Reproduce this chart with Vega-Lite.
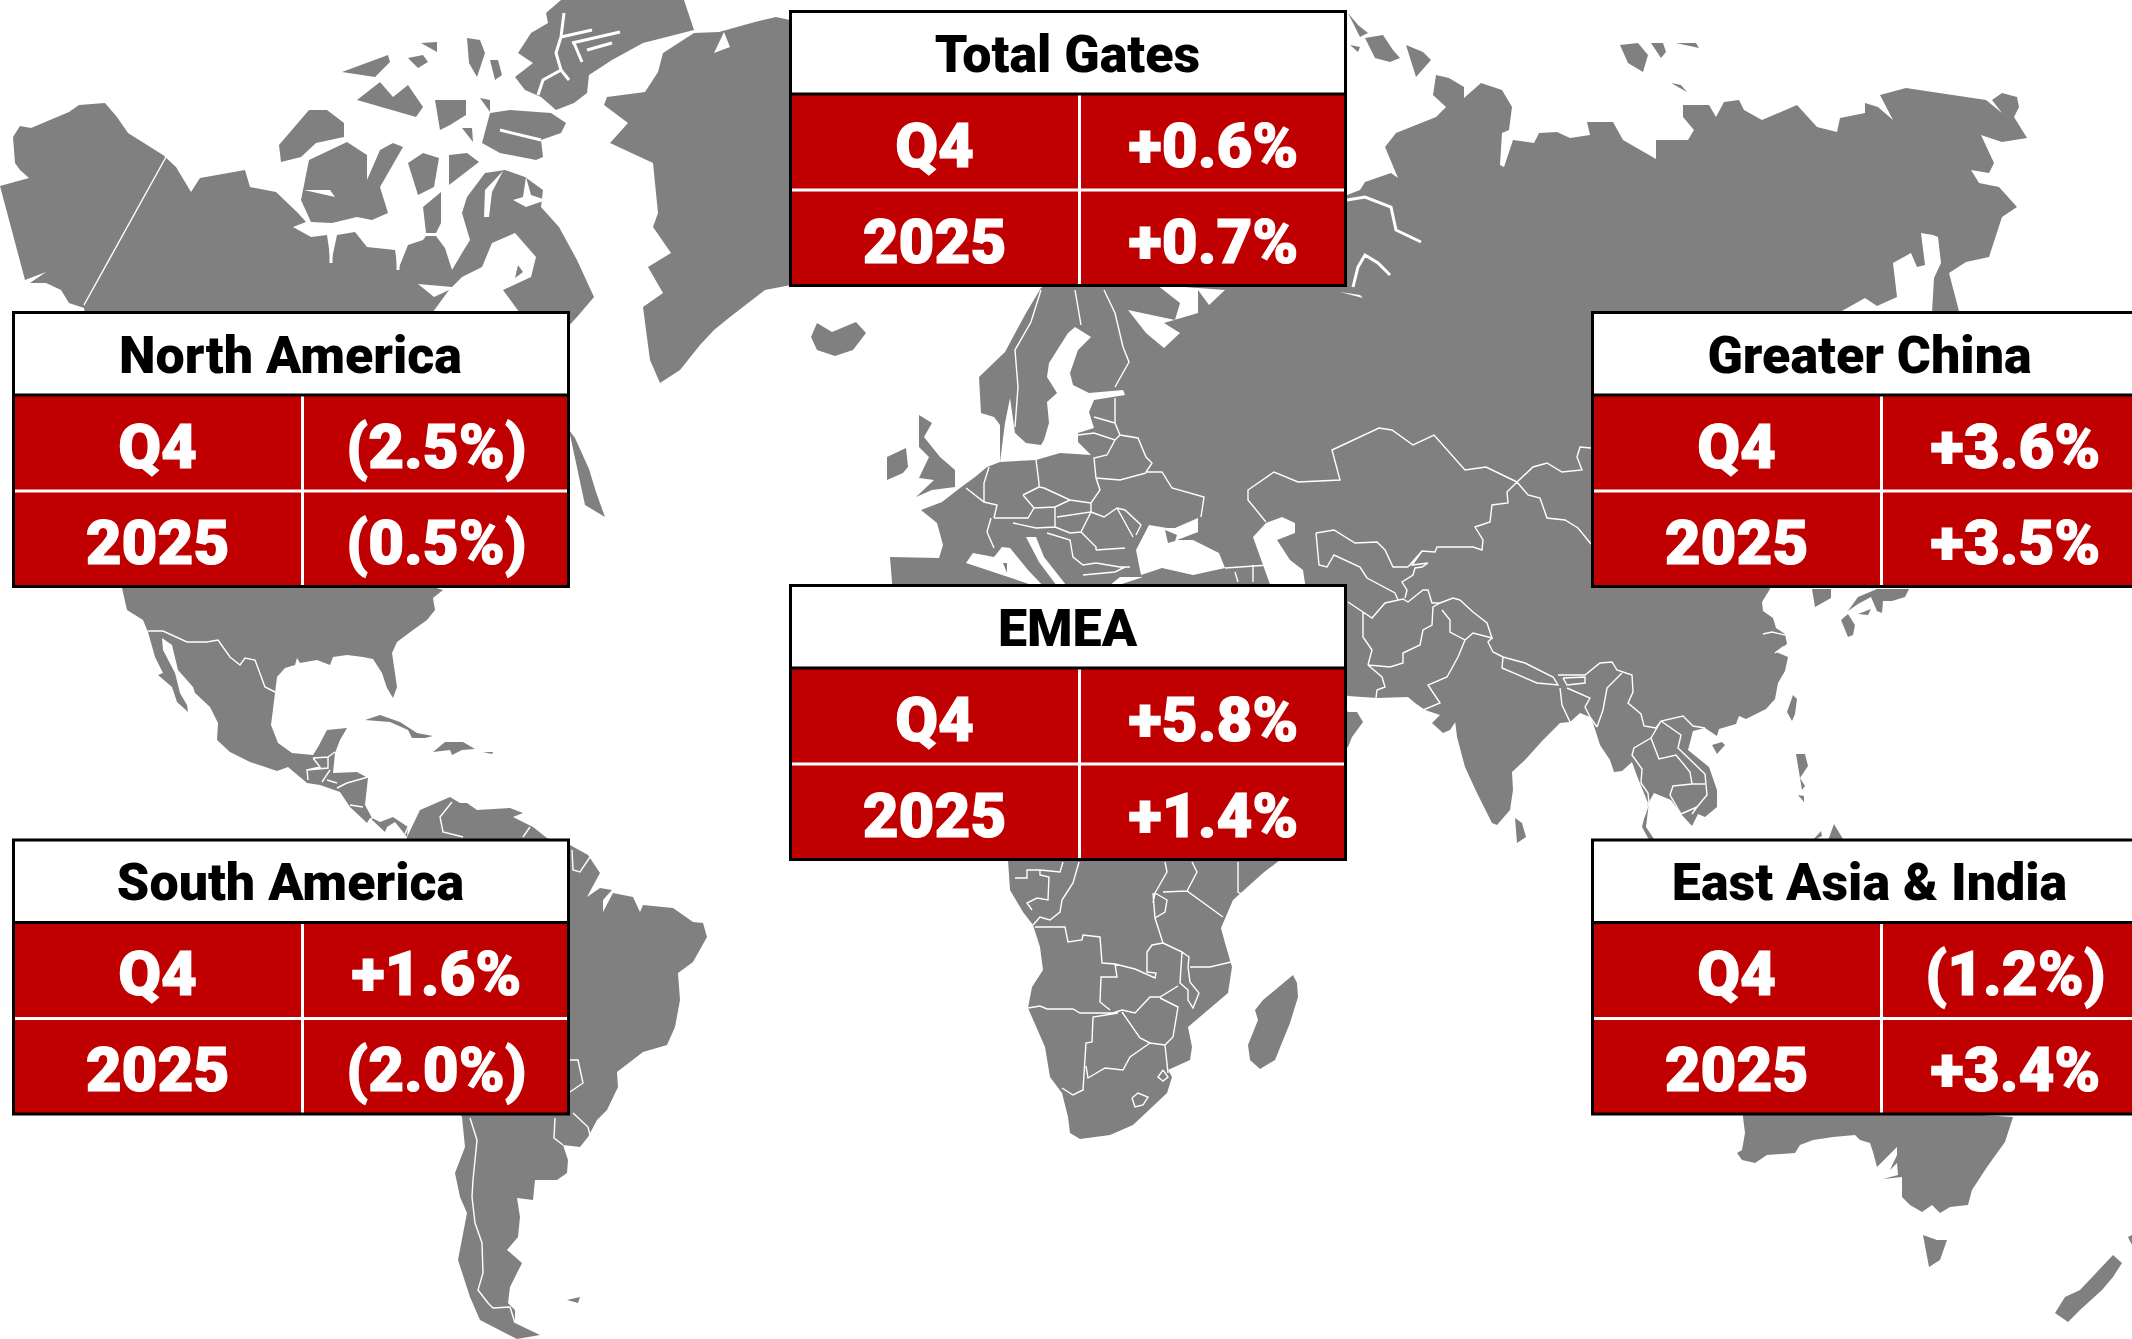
{
"$schema":"https://vega.github.io/schema/vega-lite/v6.json",
"width":2132,"height":1339,"padding":0,"autosize":"none","background":"#ffffff",
"config":{"view":{"stroke":null}},
"datasets":{
"cards":[
{"region":"Total Gates","period":"Q4","value":"+0.6%"},{"region":"Total Gates","period":"2025","value":"+0.7%"},
{"region":"North America","period":"Q4","value":"(2.5%)"},{"region":"North America","period":"2025","value":"(0.5%)"},
{"region":"Greater China","period":"Q4","value":"+3.6%"},{"region":"Greater China","period":"2025","value":"+3.5%"},
{"region":"EMEA","period":"Q4","value":"+5.8%"},{"region":"EMEA","period":"2025","value":"+1.4%"},
{"region":"South America","period":"Q4","value":"+1.6%"},{"region":"South America","period":"2025","value":"(2.0%)"},
{"region":"East Asia & India","period":"Q4","value":"(1.2%)"},{"region":"East Asia & India","period":"2025","value":"+3.4%"}
],
"areas":[
{"type":"Feature","properties":{"kind":"land","name":"North America"},"geometry":{"type":"Polygon","coordinates":[[[0,186],[29,178],[20,170],[15,163],[13,137],[20,126],[31,128],[69,112],[79,105],[105,103],[117,117],[128,133],[163,155],[176,167],[191,192],[200,178],[245,170],[250,187],[276,192],[298,213],[306,222],[293,227],[311,237],[327,235],[331,263],[337,235],[355,232],[367,247],[395,250],[398,270],[408,245],[423,240],[426,236],[436,236],[445,248],[452,270],[462,253],[470,240],[462,213],[467,197],[485,173],[505,170],[525,177],[543,190],[541,207],[559,227],[577,260],[594,297],[577,317],[565,330],[565,500],[500,540],[433,587],[443,590],[433,598],[435,610],[427,620],[413,630],[397,642],[392,653],[397,687],[393,698],[387,688],[382,673],[373,659],[363,657],[347,655],[333,657],[330,665],[317,660],[300,663],[297,658],[295,665],[285,668],[277,677],[275,693],[271,725],[278,743],[292,753],[313,755],[318,747],[327,730],[347,728],[340,740],[335,753],[333,773],[357,772],[368,778],[365,805],[372,818],[380,822],[393,817],[408,827],[407,837],[395,822],[387,827],[385,832],[370,818],[367,823],[350,807],[340,792],[320,785],[307,783],[288,767],[277,771],[250,762],[230,752],[217,740],[218,723],[210,707],[195,693],[193,687],[178,670],[172,645],[162,638],[163,650],[175,673],[180,693],[187,705],[188,712],[177,702],[172,687],[158,675],[163,673],[155,657],[148,632],[143,620],[127,610],[122,588],[100,400],[84,308],[69,303],[61,290],[46,283],[30,283],[46,272],[25,280],[0,297]]]}},
{"type":"Feature","properties":{"kind":"land","name":"South America"},"geometry":{"type":"Polygon","coordinates":[[[407,837],[420,810],[450,797],[460,803],[467,803],[477,810],[510,808],[523,813],[513,817],[533,827],[547,838],[570,845],[588,855],[600,873],[587,897],[600,888],[612,890],[603,900],[603,912],[613,893],[633,897],[640,912],[643,905],[673,908],[693,922],[703,923],[707,937],[693,962],[678,973],[680,1000],[675,1027],[667,1045],[643,1052],[617,1072],[618,1087],[607,1110],[597,1120],[588,1137],[580,1147],[563,1145],[568,1160],[567,1173],[557,1180],[535,1180],[533,1200],[517,1198],[520,1217],[518,1237],[507,1250],[522,1263],[510,1287],[508,1303],[515,1310],[515,1323],[540,1335],[517,1339],[480,1320],[470,1297],[458,1260],[467,1213],[460,1197],[455,1173],[465,1147],[462,1117],[400,1000],[400,838]]]}},
{"type":"Feature","properties":{"kind":"land","name":"Eurasia"},"geometry":{"type":"Polygon","coordinates":[[[1347,195],[1360,190],[1365,182],[1391,173],[1398,178],[1385,147],[1396,133],[1436,117],[1446,107],[1433,95],[1436,75],[1449,78],[1464,87],[1464,98],[1481,83],[1502,90],[1512,107],[1509,130],[1502,133],[1500,165],[1504,167],[1513,140],[1534,143],[1539,133],[1557,132],[1570,138],[1590,135],[1587,122],[1613,122],[1623,140],[1656,159],[1656,140],[1688,140],[1694,130],[1683,117],[1683,105],[1709,105],[1716,117],[1724,102],[1739,100],[1744,110],[1762,120],[1797,105],[1817,127],[1837,132],[1840,118],[1865,113],[1865,103],[1878,107],[1893,120],[1880,95],[1906,88],[1986,100],[2002,113],[1992,100],[2002,93],[2017,97],[2019,107],[2014,117],[2027,138],[2002,142],[1981,135],[1994,163],[1989,173],[1971,170],[1979,183],[1999,187],[2017,207],[2002,217],[1989,257],[1966,262],[1949,273],[1959,311],[1959,400],[1770,560],[1770,589],[1762,602],[1763,611],[1773,618],[1776,628],[1785,634],[1787,644],[1776,652],[1788,657],[1785,671],[1778,683],[1775,699],[1766,709],[1746,719],[1739,716],[1736,724],[1719,729],[1717,736],[1705,728],[1693,731],[1688,750],[1709,767],[1717,790],[1717,807],[1705,817],[1698,814],[1692,826],[1681,814],[1671,800],[1654,793],[1649,802],[1646,827],[1658,845],[1664,846],[1680,860],[1660,860],[1642,827],[1648,803],[1637,776],[1632,762],[1622,771],[1614,772],[1610,760],[1600,745],[1593,723],[1590,717],[1580,713],[1570,722],[1560,723],[1555,728],[1543,740],[1525,760],[1512,772],[1513,790],[1510,810],[1497,825],[1492,823],[1477,793],[1465,767],[1457,737],[1455,720],[1458,718],[1450,730],[1443,733],[1432,723],[1440,715],[1425,710],[1415,703],[1408,697],[1377,698],[1348,696],[1340,690],[1340,620],[892,620],[892,582],[890,557],[939,558],[943,545],[937,523],[921,510],[942,502],[960,488],[975,477],[987,467],[1000,462],[1000,425],[994,417],[981,413],[979,377],[1005,352],[1026,313],[1041,288],[1100,240],[1340,190]]]}},
{"type":"Feature","properties":{"kind":"land","name":"Arabia"},"geometry":{"type":"Polygon","coordinates":[[[1300,650],[1348,712],[1357,712],[1363,722],[1352,737],[1348,747],[1330,760],[1300,740]]]}},
{"type":"Feature","properties":{"kind":"land","name":"Africa"},"geometry":{"type":"Polygon","coordinates":[[[1000,840],[1008,860],[1010,890],[1023,912],[1033,925],[1040,947],[1043,970],[1032,987],[1028,1008],[1045,1047],[1050,1077],[1062,1093],[1068,1117],[1070,1133],[1080,1139],[1110,1135],[1133,1125],[1167,1093],[1172,1077],[1168,1070],[1190,1060],[1192,1047],[1188,1027],[1228,993],[1232,967],[1225,943],[1221,928],[1233,900],[1263,873],[1280,860],[1280,840]]]}},
{"type":"Feature","properties":{"kind":"land","name":"Australia"},"geometry":{"type":"Polygon","coordinates":[[[1743,1100],[1743,1117],[1745,1133],[1742,1150],[1737,1153],[1742,1160],[1755,1163],[1767,1155],[1795,1153],[1800,1145],[1813,1140],[1833,1137],[1855,1135],[1860,1140],[1870,1143],[1873,1152],[1877,1167],[1897,1147],[1897,1155],[1890,1170],[1897,1163],[1898,1175],[1883,1179],[1902,1177],[1902,1197],[1910,1205],[1922,1212],[1932,1205],[1940,1213],[1950,1207],[1968,1205],[1972,1190],[1987,1167],[2005,1142],[2013,1117],[2013,1100]]]}},
{"type":"Feature","properties":{"kind":"land","name":"Greenland"},"geometry":{"type":"Polygon","coordinates":[[[694,33],[663,53],[658,72],[645,92],[607,97],[604,105],[628,123],[610,143],[653,163],[658,213],[653,227],[671,253],[648,267],[663,293],[643,307],[646,330],[650,360],[660,383],[680,370],[700,345],[714,330],[730,317],[765,290],[791,285],[800,150],[790,20],[776,17],[755,22],[719,32],[699,33]]]}},
{"type":"Feature","properties":{"kind":"land","name":"Ellesmere"},"geometry":{"type":"Polygon","coordinates":[[[684,0],[561,0],[546,13],[548,23],[531,33],[518,53],[533,63],[515,77],[525,90],[541,97],[556,110],[574,103],[587,93],[589,75],[612,60],[643,43],[694,30],[694,20]]]}},
{"type":"Feature","properties":{"kind":"land","name":"Baffin North"},"geometry":{"type":"Polygon","coordinates":[[[490,113],[510,110],[551,113],[566,123],[561,133],[541,140],[543,157],[536,160],[500,153],[482,143],[485,130]]]}},
{"type":"Feature","properties":{"kind":"land","name":"Banks"},"geometry":{"type":"Polygon","coordinates":[[[309,110],[327,110],[344,123],[344,137],[316,143],[301,157],[281,162],[279,145],[296,128]]]}},
{"type":"Feature","properties":{"kind":"land","name":"Victoria"},"geometry":{"type":"Polygon","coordinates":[[[309,160],[347,142],[367,155],[367,180],[380,150],[393,143],[403,147],[380,187],[388,213],[372,220],[357,217],[332,223],[311,222],[301,200],[309,170]]]}},
{"type":"Feature","properties":{"kind":"land"},"geometry":{"type":"MultiPolygon","coordinates":[
[[[342,72],[388,55],[390,62],[375,77],[352,87]]],
[[[357,100],[380,82],[393,97],[408,85],[423,107],[416,117],[367,120]]],
[[[408,58],[423,55],[428,62],[418,68],[408,68]]],
[[[421,43],[437,42],[437,52],[425,50]]],
[[[435,100],[466,100],[466,115],[450,125],[440,130],[437,115]]],
[[[467,38],[480,40],[485,53],[477,77],[469,63],[459,57]]],
[[[490,60],[498,60],[502,75],[495,80],[490,75]]],
[[[480,98],[490,100],[490,112],[482,110]]],
[[[488,87],[500,90],[498,93]]],
[[[462,128],[472,128],[473,142],[465,140]]],
[[[408,163],[423,153],[439,158],[434,187],[418,195],[411,180]]],
[[[449,155],[467,153],[479,162],[449,185],[443,177]]],
[[[423,207],[441,192],[441,223],[436,233],[426,233],[418,217]]],
[[[569,430],[575,438],[589,469],[596,492],[605,517],[585,505],[569,490]]],
[[[1348,13],[1358,25],[1368,33],[1360,37],[1348,40]]],
[[[1365,38],[1383,35],[1393,50],[1400,58],[1390,62],[1375,58],[1365,47]]],
[[[1406,45],[1423,52],[1431,60],[1416,77],[1408,63]]],
[[[1350,45],[1360,47],[1358,52],[1350,50]]],
[[[1620,45],[1638,43],[1648,55],[1643,72],[1628,63],[1620,53]]],
[[[1651,43],[1663,43],[1666,52],[1661,58],[1653,50]]],
[[[1676,43],[1696,43],[1699,48],[1688,50]]],
[[[1671,83],[1681,85],[1687,92],[1671,93]]],
[[[1517,121],[1524,128],[1517,128]]],
[[[811,337],[817,323],[832,332],[856,322],[866,333],[853,350],[835,356],[817,350],[824,342]]],
[[[919,415],[932,423],[924,437],[940,457],[955,470],[955,487],[932,490],[916,497],[934,480],[919,478],[929,457],[919,447],[913,430]]],
[[[906,448],[908,467],[903,473],[887,480],[887,457],[898,453]]],
[[[365,720],[380,715],[400,722],[417,733],[433,736],[425,738],[412,738],[408,730],[390,722],[373,720]]],
[[[445,742],[463,742],[475,749],[462,750],[452,755],[450,750],[433,752],[447,750]]],
[[[405,753],[417,752],[413,755]]],
[[[483,752],[493,752],[492,754],[483,754]]],
[[[567,1300],[580,1297],[578,1303],[568,1303]]],
[[[1293,975],[1297,983],[1298,997],[1290,1023],[1275,1060],[1260,1069],[1250,1060],[1248,1045],[1258,1020],[1255,1010],[1263,1000],[1283,990]]],
[[[1515,818],[1522,823],[1526,837],[1517,843],[1513,833]]],
[[[1812,589],[1831,589],[1831,598],[1815,607],[1813,600]]],
[[[1877,589],[1909,589],[1905,597],[1892,601],[1883,601],[1882,613],[1877,611],[1871,597],[1858,604],[1848,611],[1858,597],[1875,594]]],
[[[1858,614],[1871,609],[1868,615],[1861,620]]],
[[[1841,620],[1848,614],[1855,625],[1853,635],[1848,637],[1844,625]]],
[[[1793,695],[1797,699],[1795,714],[1792,721],[1787,712],[1788,702]]],
[[[1712,745],[1722,742],[1725,745],[1717,754],[1711,750]]],
[[[1796,754],[1805,754],[1808,766],[1800,778],[1805,786],[1802,790],[1793,776]]],
[[[1798,795],[1804,796],[1804,802],[1800,800]]],
[[[1810,807],[1816,810],[1812,814]]],
[[[1827,800],[1834,808],[1830,808]]],
[[[1834,824],[1843,839],[1826,846],[1831,834]]],
[[[1812,841],[1821,831],[1822,836],[1814,842]]],
[[[1814,817],[1820,820],[1818,825]]],
[[[1923,1235],[1937,1240],[1947,1240],[1940,1260],[1929,1267],[1923,1260]]],
[[[2113,1255],[2122,1263],[2113,1277],[2102,1290],[2080,1310],[2068,1322],[2055,1313],[2065,1297],[2080,1290],[2100,1273]]],
[[[2128,1237],[2132,1235],[2132,1245],[2128,1243]]],
[[[2128,1262],[2132,1258],[2132,1265]]]
]}},
{"type":"Feature","properties":{"kind":"water","name":"Hudson Bay"},"geometry":{"type":"Polygon","coordinates":[[[492,243],[482,267],[462,277],[452,287],[418,284],[434,297],[449,290],[430,316],[522,316],[503,290],[531,277],[536,257],[515,233],[500,225]]]}},
{"type":"Feature","properties":{"kind":"water","name":"Baffin channels"},"geometry":{"type":"MultiPolygon","coordinates":[
[[[503,171],[485,190],[484,217],[489,217],[492,192],[506,173]]],
[[[526,177],[523,197],[513,200],[526,207],[546,200],[531,195],[528,177]]],
[[[724,32],[714,53],[730,47],[735,32]]],
[[[745,32],[765,58],[750,55]]],
[[[304,190],[335,197],[330,190],[304,187]]]
]}},
{"type":"Feature","properties":{"kind":"water","name":"Baltic"},"geometry":{"type":"Polygon","coordinates":[[[1005,423],[1010,398],[1015,433],[1026,443],[1041,445],[1044,440],[1049,423],[1047,402],[1057,393],[1047,377],[1049,363],[1068,333],[1075,327],[1091,337],[1078,350],[1070,373],[1073,385],[1089,393],[1123,390],[1125,395],[1094,400],[1089,412],[1094,428],[1078,433],[1078,442],[1091,455],[1060,453],[1036,460],[1000,462],[997,443]]]}},
{"type":"Feature","properties":{"kind":"water","name":"White Sea"},"geometry":{"type":"Polygon","coordinates":[[[1157,285],[1180,303],[1175,320],[1128,310],[1146,333],[1164,348],[1180,333],[1164,323],[1198,313],[1198,290],[1209,305],[1225,290],[1225,285]]]}},
{"type":"Feature","properties":{"kind":"water","name":"Siberian gulfs"},"geometry":{"type":"MultiPolygon","coordinates":[
[[[1340,292],[1360,295],[1363,298],[1348,298]]],
[[[1893,263],[1911,253],[1917,267],[1925,265],[1921,233],[1933,235],[1938,237],[1941,263],[1934,278],[1932,312],[1840,312],[1865,298],[1877,306],[1897,297],[1890,293]]]
]}},
{"type":"Feature","properties":{"kind":"water","name":"Mediterranean"},"geometry":{"type":"MultiPolygon","coordinates":[
[[[966,563],[973,553],[994,557],[1002,547],[1010,548],[1028,570],[1047,590],[945,590]]],
[[[1026,537],[1036,537],[1044,557],[1070,590],[1060,590],[1039,562],[1026,547]]],
[[[1104,590],[1120,577],[1143,577],[1145,590]]]
]}},
{"type":"Feature","properties":{"kind":"water","name":"Black Sea"},"geometry":{"type":"Polygon","coordinates":[[[1136,550],[1149,525],[1167,528],[1175,528],[1198,518],[1198,532],[1185,537],[1177,540],[1193,540],[1219,553],[1225,568],[1193,575],[1162,568],[1141,575],[1128,565]]]}},
{"type":"Feature","properties":{"kind":"water","name":"Caspian"},"geometry":{"type":"Polygon","coordinates":[[[1253,537],[1266,523],[1282,517],[1295,523],[1295,533],[1277,540],[1290,560],[1303,570],[1306,590],[1272,590],[1264,557]]]}},
{"type":"Feature","properties":{"kind":"land","name":"Small islands"},"geometry":{"type":"MultiPolygon","coordinates":[
[[[518,265],[523,272],[515,278],[512,273]]],
[[[1165,530],[1177,535],[1175,541],[1168,543],[1163,537]]],
[[[1003,563],[1007,563],[1007,573],[1004,573]]],
[[[1002,577],[1008,577],[1008,583],[1002,583]]]
]}}
],
"lines":[
{"type":"Feature","properties":{"kind":"inlet"},"geometry":{"type":"MultiLineString","coordinates":[
[[564,13],[561,37],[556,53],[561,70],[543,80],[538,95]],[[561,37],[592,30]],[[572,43],[620,32]],[[574,43],[582,62]],[[612,43],[587,50]],[[561,70],[569,80]],[[331,263],[331,240]],[[398,270],[398,248]],[[500,130],[541,140]],
[[1347,200],[1365,197],[1391,207],[1396,230],[1421,242]],[[1353,287],[1358,267],[1365,255],[1378,263],[1390,275]]]}},
{"type":"Feature","properties":{"kind":"border"},"geometry":{"type":"MultiLineString","coordinates":[
[[166,157],[84,305]],
[[1041,290],[1031,322],[1015,350],[1018,387],[1015,427]],
[[1075,290],[1081,325]],
[[1104,290],[1115,313],[1123,347],[1129,362],[1115,387]],
[[1115,398],[1115,423],[1120,435],[1138,438],[1146,457],[1152,463],[1146,472],[1162,472],[1172,488],[1204,497],[1201,517]],
[[1094,417],[1115,423]],
[[1078,435],[1094,433],[1115,440],[1120,435]],
[[1115,440],[1107,455],[1094,458],[1096,478],[1100,490],[1091,503]],
[[1096,478],[1120,480],[1146,473]],
[[1036,460],[1039,483],[1039,487],[1044,488],[1070,500],[1091,503]],
[[1023,495],[1039,487]],
[[1023,495],[1034,508],[1055,507],[1070,500]],
[[966,488],[984,502],[997,505],[994,518]],
[[989,467],[984,483],[984,502]],
[[994,518],[1028,518],[1034,508]],
[[987,532],[994,548]],
[[987,532],[991,518]],
[[1013,523],[1036,528],[1055,527],[1055,507]],
[[1057,517],[1091,512],[1091,503]],
[[1091,512],[1081,532]],
[[1055,527],[1070,533],[1081,532]],
[[1091,512],[1104,517],[1117,508],[1125,510],[1141,525],[1136,535]],
[[1117,508],[1133,537]],
[[1096,550],[1125,548]],
[[1081,532],[1096,547],[1096,550]],
[[1096,563],[1120,567],[1130,567]],
[[1047,533],[1070,540],[1073,557],[1083,565],[1096,563]],
[[1083,575],[1115,572],[1125,567]],
[[1235,572],[1238,582]],[[1253,565],[1253,582]],[[1225,568],[1269,565]],
[[1266,522],[1248,500],[1248,490],[1274,472],[1298,482],[1340,480],[1332,450],[1379,428],[1392,430],[1413,445],[1434,435],[1465,470],[1486,467],[1517,482]],
[[1517,482],[1507,492],[1508,503],[1492,505],[1490,522],[1475,527],[1483,540],[1482,550],[1473,547],[1437,547],[1435,552],[1422,551],[1408,567]],
[[1316,533],[1334,530],[1355,543],[1377,542],[1385,550],[1393,567],[1408,567]],
[[1316,533],[1319,565],[1327,567],[1334,555],[1360,567],[1367,578],[1395,593],[1398,600]],
[[1422,551],[1412,565],[1428,563],[1422,567],[1415,568],[1413,575],[1402,582],[1407,590],[1405,598]],
[[1517,482],[1533,467],[1547,463],[1562,472],[1582,470],[1577,457],[1580,447],[1591,448]],
[[1517,482],[1528,495],[1540,498],[1547,518],[1565,520],[1578,528],[1591,544]],
[[1348,602],[1363,612],[1372,618],[1385,603],[1403,599],[1408,602],[1423,590],[1428,590],[1432,603],[1440,603],[1453,598],[1460,600]],
[[1363,612],[1363,637],[1372,650],[1368,665]],
[[1368,665],[1390,667],[1403,663],[1403,653],[1420,645],[1423,630],[1432,625],[1433,607],[1440,603]],
[[1368,665],[1382,677],[1385,687],[1377,690],[1376,698]],
[[1442,610],[1450,620],[1450,632],[1465,640],[1458,657],[1447,677],[1428,685],[1440,703],[1423,710]],
[[1460,600],[1473,612],[1487,623],[1492,638],[1473,633],[1465,640]],
[[1492,638],[1488,642],[1493,652],[1503,657],[1525,663],[1553,677],[1558,685],[1537,683],[1502,668],[1503,657]],
[[1563,678],[1585,677],[1585,683],[1567,685],[1563,678]],
[[1558,675],[1585,675],[1600,663],[1612,662],[1617,670],[1632,675],[1633,692],[1628,703],[1641,714],[1644,726],[1656,728]],
[[1560,688],[1562,705],[1570,722]],
[[1567,688],[1590,698],[1585,707],[1590,717],[1597,727]],
[[1622,673],[1607,688],[1603,710],[1597,727]],
[[1656,728],[1661,721],[1683,716],[1693,726],[1705,728]],
[[1661,721],[1681,735],[1678,748],[1705,774],[1707,795],[1697,807],[1692,814]],
[[1661,721],[1651,738],[1659,759],[1676,755],[1690,772],[1692,784],[1705,784]],
[[1651,738],[1634,748],[1632,755],[1642,769],[1641,783],[1648,793],[1649,803],[1644,817]],
[[1692,784],[1673,786],[1670,795],[1681,814],[1697,807]],
[[1763,634],[1772,632],[1785,635]],[[1775,653],[1783,647],[1787,648]],
[[148,631],[163,631],[187,642],[207,642],[218,640],[230,657],[240,665],[245,658],[255,660],[265,687],[275,692]],
[[313,758],[328,757],[328,768],[307,770],[308,780]],[[313,758],[320,767],[307,770]],[[328,757],[335,752]],
[[322,782],[330,770]],[[337,783],[327,780]],[[337,788],[347,783],[368,777]],[[350,805],[363,807]],[[372,818],[368,823]],[[408,827],[405,834]],
[[452,802],[440,817],[443,832],[463,837]],[[523,837],[530,827]],
[[572,850],[573,870],[580,872],[590,857]],
[[573,1113],[588,1127],[590,1135]],
[[555,1118],[554,1138],[563,1145]],
[[570,1060],[578,1060],[583,1083],[570,1092]],
[[470,1118],[477,1140],[473,1180],[472,1197],[475,1223],[482,1243],[483,1273],[478,1290],[488,1303],[493,1308],[510,1307],[515,1323]],
[[1015,878],[1027,878],[1027,870],[1040,870],[1060,872],[1063,862]],
[[1040,870],[1040,875],[1049,877],[1048,900],[1037,898],[1027,903],[1032,910]],
[[1079,862],[1073,883],[1062,900],[1060,912],[1050,920],[1040,917],[1033,925]],
[[1035,927],[1065,927],[1068,942],[1082,940],[1083,935],[1100,937],[1102,963],[1115,964],[1117,977],[1101,977],[1100,1002],[1110,1010]],
[[1115,964],[1135,969],[1155,978],[1156,973],[1147,972],[1147,952],[1152,945],[1163,943]],
[[1028,1008],[1040,1006],[1047,1009],[1073,1009],[1080,1013],[1113,1013],[1122,1010],[1135,1013],[1150,997],[1160,997],[1178,986]],
[[1118,1013],[1093,1017],[1092,1042],[1086,1043],[1083,1090],[1073,1095],[1062,1088]],
[[1086,1066],[1088,1078],[1105,1068],[1123,1070],[1130,1057],[1150,1043]],
[[1122,1012],[1140,1038],[1150,1043],[1165,1045],[1173,1037],[1178,1007],[1160,998]],
[[1165,1045],[1168,1073]],
[[1163,1070],[1158,1077],[1163,1081],[1168,1077],[1163,1070]],
[[1132,1098],[1138,1093],[1148,1097],[1143,1105],[1135,1107],[1132,1098]],
[[1163,943],[1182,952],[1180,983],[1188,990],[1188,1000],[1193,1008],[1199,993],[1190,982],[1188,967],[1189,957],[1182,952]],
[[1190,967],[1210,967],[1231,962]],
[[1153,893],[1155,918],[1163,943]],
[[1153,903],[1155,893],[1167,900],[1165,912],[1155,918]],
[[1163,892],[1187,891],[1223,917]],
[[1192,862],[1197,872],[1187,891]],
[[1165,862],[1167,872],[1155,893]],
[[1238,862],[1238,892],[1243,895]]
]}}
]
},
"data":{"name":"cards"},
"transform":[
{"calculate":"{'Total Gates':790.5,'North America':13.5,'South America':13.5,'EMEA':790.5,'Greater China':1592.5,'East Asia & India':1592.5}[datum.region]","as":"left"},
{"calculate":"{'Total Gates':11.5,'North America':312.5,'Greater China':312.5,'EMEA':585.5,'South America':840,'East Asia & India':840}[datum.region]","as":"top"},
{"calculate":"datum.left+555","as":"right"},
{"calculate":"datum.left+289","as":"divider"},
{"calculate":"datum.left+144","as":"labelX"},
{"calculate":"datum.left+423","as":"valueX"},
{"calculate":"datum.left+277","as":"headerX"},
{"calculate":"datum.top+60","as":"headerBase"},
{"calculate":"datum.top+82.5","as":"headerBottom"},
{"calculate":"datum.period==='Q4'?datum.top+82.5:datum.top+178.5","as":"rowTop"},
{"calculate":"datum.period==='Q4'?datum.top+178.5:datum.top+274","as":"rowBottom"},
{"calculate":"datum.period==='Q4'?datum.top+155:datum.top+251","as":"rowBase"}
],
"layer":[
{"data":{"name":"areas"},"transform":[],"projection":{"type":"identity","scale":1,"translate":[0,0]},
 "mark":{"type":"geoshape","strokeWidth":0},
 "encoding":{"fill":{"field":"properties.kind","type":"nominal","scale":{"domain":["land","water"],"range":["#808080","#ffffff"]},"legend":null}}},
{"data":{"name":"lines"},"transform":[],"projection":{"type":"identity","scale":1,"translate":[0,0]},
 "mark":{"type":"geoshape","filled":false,"stroke":"#ffffff"},
 "encoding":{"strokeWidth":{"field":"properties.kind","type":"nominal","scale":{"domain":["border","inlet"],"range":[1.4,3]},"legend":null}}},
{"transform":[{"filter":"datum.period==='Q4'"}],"mark":{"type":"rect","fill":"#ffffff"},
 "encoding":{"x":{"field":"left","type":"quantitative","scale":{"domain":[0,2132],"nice":false,"zero":false},"axis":null},"x2":{"field":"right"},
 "y":{"field":"top","type":"quantitative","scale":{"domain":[0,1339],"nice":false,"zero":false,"reverse":false,"range":[0,1339]},"axis":null},"y2":{"field":"headerBottom"}}},
{"mark":{"type":"rect","fill":"#C00000"},
 "encoding":{"x":{"field":"left","type":"quantitative"},"x2":{"field":"right"},"y":{"field":"rowTop","type":"quantitative"},"y2":{"field":"rowBottom"}}},
{"mark":{"type":"rule","stroke":"#ffffff","strokeWidth":3},
 "encoding":{"x":{"field":"divider","type":"quantitative"},"y":{"field":"rowTop","type":"quantitative"},"y2":{"field":"rowBottom"}}},
{"transform":[{"filter":"datum.period==='Q4'"}],"mark":{"type":"rule","stroke":"#ffffff","strokeWidth":3},
 "encoding":{"x":{"field":"left","type":"quantitative"},"x2":{"field":"right"},"y":{"field":"rowBottom","type":"quantitative"}}},
{"transform":[{"filter":"datum.period==='Q4'"}],"mark":{"type":"rule","stroke":"#000000","strokeWidth":3},
 "encoding":{"x":{"field":"left","type":"quantitative"},"x2":{"field":"right"},"y":{"field":"headerBottom","type":"quantitative"}}},
{"transform":[{"filter":"datum.period==='Q4'"},{"calculate":"datum.top+274","as":"cardBottom"}],"mark":{"type":"rect","fillOpacity":0,"fill":"#ffffff","stroke":"#000000","strokeWidth":3},
 "encoding":{"x":{"field":"left","type":"quantitative"},"x2":{"field":"right"},"y":{"field":"top","type":"quantitative"},"y2":{"field":"cardBottom"}}},
{"transform":[{"filter":"datum.period==='Q4'"}],"mark":{"type":"text","font":"Roboto","fontWeight":900,"fontSize":52,"fill":"#000000","align":"center","baseline":"alphabetic"},
 "encoding":{"x":{"field":"headerX","type":"quantitative"},"y":{"field":"headerBase","type":"quantitative"},"text":{"field":"region"}}},
{"mark":{"type":"text","font":"Roboto","fontWeight":900,"fontSize":62,"fill":"#ffffff","stroke":"#ffffff","strokeWidth":1.2,"align":"center","baseline":"alphabetic"},
 "encoding":{"x":{"field":"labelX","type":"quantitative"},"y":{"field":"rowBase","type":"quantitative"},"text":{"field":"period"}}},
{"mark":{"type":"text","font":"Roboto","fontWeight":900,"fontSize":62,"fill":"#ffffff","stroke":"#ffffff","strokeWidth":1.2,"align":"center","baseline":"alphabetic"},
 "encoding":{"x":{"field":"valueX","type":"quantitative"},"y":{"field":"rowBase","type":"quantitative"},"text":{"field":"value"}}}
]
}
